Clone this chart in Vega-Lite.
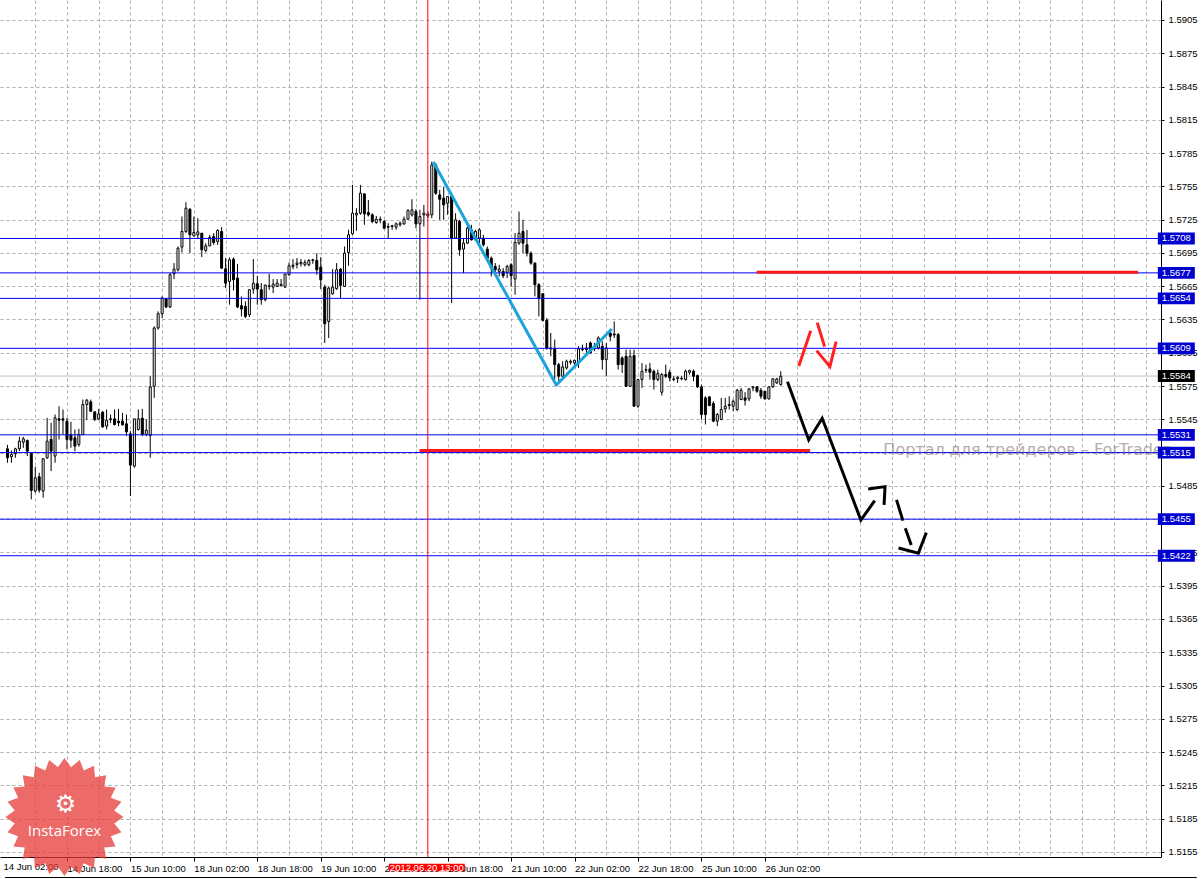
{
  "$schema": "https://vega.github.io/schema/vega-lite/v6.json",
  "width": 1161,
  "height": 857,
  "autosize": "none",
  "padding": {"left": 0, "top": 0, "right": 41, "bottom": 22},
  "background": "white",
  "config": {"view": {"stroke": null}},
  "datasets": {
    "candles": [
      {"i":1,"o":1.55184,"h":1.5522,"l":1.55058,"c":1.55103},
      {"i":2,"o":1.55112,"h":1.55169,"l":1.55058,"c":1.55133},
      {"i":3,"o":1.55139,"h":1.55193,"l":1.55103,"c":1.55184},
      {"i":4,"o":1.55184,"h":1.55292,"l":1.55163,"c":1.55253},
      {"i":5,"o":1.55244,"h":1.55292,"l":1.55193,"c":1.55274},
      {"i":6,"o":1.55259,"h":1.55268,"l":1.55118,"c":1.55163},
      {"i":7,"o":1.55142,"h":1.55142,"l":1.54728,"c":1.54809},
      {"i":8,"o":1.54803,"h":1.55022,"l":1.54788,"c":1.54923},
      {"i":9,"o":1.54932,"h":1.54968,"l":1.54788,"c":1.54812},
      {"i":10,"o":1.54803,"h":1.551,"l":1.54743,"c":1.55094},
      {"i":11,"o":1.55103,"h":1.55463,"l":1.55094,"c":1.55253},
      {"i":12,"o":1.55268,"h":1.55418,"l":1.54983,"c":1.55163},
      {"i":13,"o":1.55118,"h":1.55493,"l":1.55058,"c":1.55463},
      {"i":14,"o":1.55454,"h":1.55568,"l":1.55268,"c":1.55442},
      {"i":15,"o":1.55454,"h":1.55538,"l":1.55313,"c":1.55442},
      {"i":16,"o":1.55433,"h":1.55463,"l":1.55178,"c":1.55268},
      {"i":17,"o":1.55313,"h":1.55427,"l":1.55193,"c":1.55262},
      {"i":18,"o":1.55283,"h":1.55358,"l":1.55163,"c":1.55208},
      {"i":19,"o":1.55223,"h":1.55364,"l":1.55202,"c":1.55313},
      {"i":20,"o":1.55313,"h":1.55628,"l":1.55307,"c":1.55583},
      {"i":21,"o":1.55583,"h":1.55634,"l":1.55442,"c":1.55622},
      {"i":22,"o":1.55607,"h":1.55628,"l":1.55517,"c":1.55523},
      {"i":23,"o":1.55517,"h":1.55523,"l":1.55433,"c":1.55448},
      {"i":24,"o":1.55454,"h":1.55544,"l":1.55442,"c":1.55499},
      {"i":25,"o":1.55514,"h":1.55523,"l":1.55373,"c":1.55382},
      {"i":26,"o":1.55388,"h":1.55538,"l":1.55358,"c":1.55442},
      {"i":27,"o":1.55454,"h":1.55493,"l":1.55418,"c":1.55448},
      {"i":28,"o":1.55454,"h":1.55538,"l":1.55394,"c":1.55403},
      {"i":29,"o":1.55433,"h":1.55544,"l":1.55388,"c":1.55418},
      {"i":30,"o":1.55433,"h":1.55508,"l":1.55394,"c":1.554},
      {"i":31,"o":1.55409,"h":1.55493,"l":1.55298,"c":1.55337},
      {"i":32,"o":1.55319,"h":1.55343,"l":1.54758,"c":1.55037},
      {"i":33,"o":1.55028,"h":1.55454,"l":1.55013,"c":1.55454},
      {"i":34,"o":1.55358,"h":1.55538,"l":1.55349,"c":1.55454},
      {"i":35,"o":1.5546,"h":1.55544,"l":1.55298,"c":1.55313},
      {"i":36,"o":1.55313,"h":1.55448,"l":1.55298,"c":1.55352},
      {"i":37,"o":1.55304,"h":1.55838,"l":1.55103,"c":1.55742},
      {"i":38,"o":1.55748,"h":1.56288,"l":1.55643,"c":1.56273},
      {"i":39,"o":1.56273,"h":1.56423,"l":1.56258,"c":1.56402},
      {"i":40,"o":1.56402,"h":1.56558,"l":1.56363,"c":1.56543},
      {"i":41,"o":1.56534,"h":1.56543,"l":1.56453,"c":1.56462},
      {"i":42,"o":1.56462,"h":1.56768,"l":1.56453,"c":1.56753},
      {"i":43,"o":1.56762,"h":1.56858,"l":1.56714,"c":1.56804},
      {"i":44,"o":1.56798,"h":1.57008,"l":1.56783,"c":1.56993},
      {"i":45,"o":1.57002,"h":1.57278,"l":1.56954,"c":1.57143},
      {"i":46,"o":1.57143,"h":1.57407,"l":1.57128,"c":1.57353},
      {"i":47,"o":1.57344,"h":1.57353,"l":1.56948,"c":1.57113},
      {"i":48,"o":1.57104,"h":1.57278,"l":1.57098,"c":1.57134},
      {"i":49,"o":1.57113,"h":1.57263,"l":1.57083,"c":1.5714},
      {"i":50,"o":1.57128,"h":1.57128,"l":1.56912,"c":1.56978},
      {"i":51,"o":1.56972,"h":1.57038,"l":1.56954,"c":1.57014},
      {"i":52,"o":1.57014,"h":1.57113,"l":1.57008,"c":1.57089},
      {"i":53,"o":1.57098,"h":1.57128,"l":1.57023,"c":1.57044},
      {"i":54,"o":1.57053,"h":1.57164,"l":1.57023,"c":1.57152},
      {"i":55,"o":1.57143,"h":1.57182,"l":1.56804,"c":1.56813},
      {"i":56,"o":1.56807,"h":1.56903,"l":1.56633,"c":1.56678},
      {"i":57,"o":1.56693,"h":1.56909,"l":1.56483,"c":1.56888},
      {"i":58,"o":1.56894,"h":1.56909,"l":1.56612,"c":1.56708},
      {"i":59,"o":1.56723,"h":1.56849,"l":1.56453,"c":1.56462},
      {"i":60,"o":1.56474,"h":1.56558,"l":1.56378,"c":1.56444},
      {"i":61,"o":1.56468,"h":1.56513,"l":1.56363,"c":1.56378},
      {"i":62,"o":1.56393,"h":1.56624,"l":1.56372,"c":1.56618},
      {"i":63,"o":1.56624,"h":1.56894,"l":1.56582,"c":1.56678},
      {"i":64,"o":1.56672,"h":1.56744,"l":1.56483,"c":1.56624},
      {"i":65,"o":1.56618,"h":1.56678,"l":1.56483,"c":1.56528},
      {"i":66,"o":1.56528,"h":1.56663,"l":1.56513,"c":1.5666},
      {"i":67,"o":1.56648,"h":1.56762,"l":1.56618,"c":1.56654},
      {"i":68,"o":1.56642,"h":1.56714,"l":1.56588,"c":1.56669},
      {"i":69,"o":1.56648,"h":1.56714,"l":1.56642,"c":1.56678},
      {"i":70,"o":1.56654,"h":1.56714,"l":1.56648,"c":1.56666},
      {"i":71,"o":1.56642,"h":1.56762,"l":1.56633,"c":1.56759},
      {"i":72,"o":1.56753,"h":1.56864,"l":1.56744,"c":1.56834},
      {"i":73,"o":1.56828,"h":1.56894,"l":1.56804,"c":1.5684},
      {"i":74,"o":1.56846,"h":1.56903,"l":1.5681,"c":1.56858},
      {"i":75,"o":1.56852,"h":1.56894,"l":1.56828,"c":1.56864},
      {"i":76,"o":1.56843,"h":1.56888,"l":1.56828,"c":1.56864},
      {"i":77,"o":1.56843,"h":1.56894,"l":1.56828,"c":1.56882},
      {"i":78,"o":1.56882,"h":1.56897,"l":1.56852,"c":1.56888},
      {"i":79,"o":1.56882,"h":1.56948,"l":1.56753,"c":1.56798},
      {"i":80,"o":1.56822,"h":1.56912,"l":1.56624,"c":1.56708},
      {"i":81,"o":1.56642,"h":1.56663,"l":1.56138,"c":1.56312},
      {"i":82,"o":1.56333,"h":1.56648,"l":1.56183,"c":1.56633},
      {"i":83,"o":1.56582,"h":1.56804,"l":1.56573,"c":1.56642},
      {"i":84,"o":1.56627,"h":1.56858,"l":1.56618,"c":1.56798},
      {"i":85,"o":1.56804,"h":1.56813,"l":1.56543,"c":1.56657},
      {"i":86,"o":1.56648,"h":1.57008,"l":1.56642,"c":1.56948},
      {"i":87,"o":1.56954,"h":1.57158,"l":1.56834,"c":1.57113},
      {"i":88,"o":1.57122,"h":1.57563,"l":1.57113,"c":1.57308},
      {"i":89,"o":1.57293,"h":1.57353,"l":1.57149,"c":1.57308},
      {"i":90,"o":1.57308,"h":1.57563,"l":1.57293,"c":1.57488},
      {"i":91,"o":1.57482,"h":1.57488,"l":1.57203,"c":1.57302},
      {"i":92,"o":1.57314,"h":1.57428,"l":1.57278,"c":1.57293},
      {"i":93,"o":1.57293,"h":1.57308,"l":1.57218,"c":1.57233},
      {"i":94,"o":1.57224,"h":1.57284,"l":1.57212,"c":1.57254},
      {"i":95,"o":1.57254,"h":1.57278,"l":1.57218,"c":1.57248},
      {"i":96,"o":1.57233,"h":1.57248,"l":1.57164,"c":1.57173},
      {"i":97,"o":1.57188,"h":1.57218,"l":1.57083,"c":1.57182},
      {"i":98,"o":1.57194,"h":1.57203,"l":1.57158,"c":1.57188},
      {"i":99,"o":1.57182,"h":1.57224,"l":1.57158,"c":1.57212},
      {"i":100,"o":1.57203,"h":1.57233,"l":1.57188,"c":1.57218},
      {"i":101,"o":1.57212,"h":1.57278,"l":1.57203,"c":1.57254},
      {"i":102,"o":1.57254,"h":1.57344,"l":1.57248,"c":1.57332},
      {"i":103,"o":1.57293,"h":1.57434,"l":1.57278,"c":1.57338},
      {"i":104,"o":1.57323,"h":1.57344,"l":1.57173,"c":1.57212},
      {"i":105,"o":1.57212,"h":1.57338,"l":1.56528,"c":1.57278},
      {"i":106,"o":1.57293,"h":1.57383,"l":1.57188,"c":1.57308},
      {"i":107,"o":1.57284,"h":1.57323,"l":1.57263,"c":1.57302},
      {"i":108,"o":1.57293,"h":1.57773,"l":1.57263,"c":1.57743},
      {"i":109,"o":1.57743,"h":1.57758,"l":1.57473,"c":1.57488},
      {"i":110,"o":1.57473,"h":1.57518,"l":1.57248,"c":1.57434},
      {"i":111,"o":1.57443,"h":1.57548,"l":1.57248,"c":1.57383},
      {"i":112,"o":1.57398,"h":1.57458,"l":1.57293,"c":1.57458},
      {"i":113,"o":1.57458,"h":1.57473,"l":1.56498,"c":1.57083},
      {"i":114,"o":1.57083,"h":1.57308,"l":1.57083,"c":1.57248},
      {"i":115,"o":1.57233,"h":1.57248,"l":1.56924,"c":1.56978},
      {"i":116,"o":1.56984,"h":1.57083,"l":1.56768,"c":1.57038},
      {"i":117,"o":1.57038,"h":1.57203,"l":1.57032,"c":1.57173},
      {"i":118,"o":1.57158,"h":1.57203,"l":1.57062,"c":1.57068},
      {"i":119,"o":1.57068,"h":1.57158,"l":1.57062,"c":1.57143},
      {"i":120,"o":1.57083,"h":1.57173,"l":1.57038,"c":1.57158},
      {"i":121,"o":1.57083,"h":1.57113,"l":1.57008,"c":1.57023},
      {"i":122,"o":1.56984,"h":1.57008,"l":1.56888,"c":1.56903},
      {"i":123,"o":1.56903,"h":1.56918,"l":1.56738,"c":1.56813},
      {"i":124,"o":1.56828,"h":1.56858,"l":1.56768,"c":1.56798},
      {"i":125,"o":1.56783,"h":1.56843,"l":1.56738,"c":1.56804},
      {"i":126,"o":1.56783,"h":1.56813,"l":1.56723,"c":1.56744},
      {"i":127,"o":1.56774,"h":1.56843,"l":1.56723,"c":1.56828},
      {"i":128,"o":1.56843,"h":1.56858,"l":1.56648,"c":1.56744},
      {"i":129,"o":1.56714,"h":1.57128,"l":1.56573,"c":1.57044},
      {"i":130,"o":1.57038,"h":1.57323,"l":1.57023,"c":1.57128},
      {"i":131,"o":1.57143,"h":1.57248,"l":1.56948,"c":1.57038},
      {"i":132,"o":1.57023,"h":1.57158,"l":1.56918,"c":1.56948},
      {"i":133,"o":1.56948,"h":1.56963,"l":1.56843,"c":1.56858},
      {"i":134,"o":1.56858,"h":1.56864,"l":1.56558,"c":1.56663},
      {"i":135,"o":1.56663,"h":1.56678,"l":1.56378,"c":1.56543},
      {"i":136,"o":1.56582,"h":1.56588,"l":1.56333,"c":1.56342},
      {"i":137,"o":1.56342,"h":1.56363,"l":1.56078,"c":1.56093},
      {"i":138,"o":1.56093,"h":1.56228,"l":1.56018,"c":1.56084},
      {"i":139,"o":1.56084,"h":1.56168,"l":1.55808,"c":1.55943},
      {"i":140,"o":1.55943,"h":1.55958,"l":1.55793,"c":1.55838},
      {"i":141,"o":1.55838,"h":1.55973,"l":1.55823,"c":1.55922},
      {"i":142,"o":1.55913,"h":1.55988,"l":1.55898,"c":1.55973},
      {"i":143,"o":1.55964,"h":1.55988,"l":1.55943,"c":1.55973},
      {"i":144,"o":1.55958,"h":1.55988,"l":1.55928,"c":1.55982},
      {"i":145,"o":1.55958,"h":1.56108,"l":1.55913,"c":1.56084},
      {"i":146,"o":1.56078,"h":1.56123,"l":1.56063,"c":1.56084},
      {"i":147,"o":1.56078,"h":1.56138,"l":1.56048,"c":1.56093},
      {"i":148,"o":1.56138,"h":1.56153,"l":1.56042,"c":1.56048},
      {"i":149,"o":1.56093,"h":1.56138,"l":1.56063,"c":1.56084},
      {"i":150,"o":1.56093,"h":1.56198,"l":1.56078,"c":1.56183},
      {"i":151,"o":1.56108,"h":1.56153,"l":1.55898,"c":1.55988},
      {"i":152,"o":1.55988,"h":1.56138,"l":1.55838,"c":1.56093},
      {"i":153,"o":1.56228,"h":1.56258,"l":1.56153,"c":1.56198},
      {"i":154,"o":1.56219,"h":1.56333,"l":1.56183,"c":1.5621},
      {"i":155,"o":1.56213,"h":1.56228,"l":1.55898,"c":1.55943},
      {"i":156,"o":1.56003,"h":1.56018,"l":1.55868,"c":1.55943},
      {"i":157,"o":1.56018,"h":1.56078,"l":1.55742,"c":1.55748},
      {"i":158,"o":1.55748,"h":1.56078,"l":1.55742,"c":1.56018},
      {"i":159,"o":1.56024,"h":1.56078,"l":1.55562,"c":1.55568},
      {"i":160,"o":1.55568,"h":1.55808,"l":1.55553,"c":1.55808},
      {"i":161,"o":1.55808,"h":1.55958,"l":1.55733,"c":1.55883},
      {"i":162,"o":1.55892,"h":1.55943,"l":1.55868,"c":1.55898},
      {"i":163,"o":1.55904,"h":1.55958,"l":1.55808,"c":1.55874},
      {"i":164,"o":1.55883,"h":1.55898,"l":1.55718,"c":1.55808},
      {"i":165,"o":1.55808,"h":1.55898,"l":1.55793,"c":1.55862},
      {"i":166,"o":1.55694,"h":1.55868,"l":1.55664,"c":1.55853},
      {"i":167,"o":1.55853,"h":1.55943,"l":1.55823,"c":1.55838},
      {"i":168,"o":1.55874,"h":1.55898,"l":1.55793,"c":1.55823},
      {"i":169,"o":1.55814,"h":1.55838,"l":1.55793,"c":1.55808},
      {"i":170,"o":1.55817,"h":1.55838,"l":1.55778,"c":1.55829},
      {"i":171,"o":1.55814,"h":1.55838,"l":1.55802,"c":1.5582},
      {"i":172,"o":1.55808,"h":1.55898,"l":1.55799,"c":1.55883},
      {"i":173,"o":1.55874,"h":1.55898,"l":1.55853,"c":1.55889},
      {"i":174,"o":1.55883,"h":1.55898,"l":1.55793,"c":1.55838},
      {"i":175,"o":1.55844,"h":1.55853,"l":1.55733,"c":1.55742},
      {"i":176,"o":1.55742,"h":1.55763,"l":1.55448,"c":1.55493},
      {"i":177,"o":1.55643,"h":1.55658,"l":1.55403,"c":1.55493},
      {"i":178,"o":1.55652,"h":1.55658,"l":1.55568,"c":1.55574},
      {"i":179,"o":1.55592,"h":1.55613,"l":1.55424,"c":1.55433},
      {"i":180,"o":1.55433,"h":1.55508,"l":1.55388,"c":1.55493},
      {"i":181,"o":1.55448,"h":1.55643,"l":1.55442,"c":1.55538},
      {"i":182,"o":1.55544,"h":1.55643,"l":1.55508,"c":1.55568},
      {"i":183,"o":1.55574,"h":1.55658,"l":1.55538,"c":1.55583},
      {"i":184,"o":1.55568,"h":1.55628,"l":1.55523,"c":1.55613},
      {"i":185,"o":1.55538,"h":1.55724,"l":1.55523,"c":1.55712},
      {"i":186,"o":1.55628,"h":1.55733,"l":1.55622,"c":1.55712},
      {"i":187,"o":1.55643,"h":1.55694,"l":1.55574,"c":1.55622},
      {"i":188,"o":1.55634,"h":1.55733,"l":1.55613,"c":1.55724},
      {"i":189,"o":1.55733,"h":1.55748,"l":1.55703,"c":1.55742},
      {"i":190,"o":1.55742,"h":1.55748,"l":1.55688,"c":1.55703},
      {"i":191,"o":1.55712,"h":1.55733,"l":1.55634,"c":1.55658},
      {"i":192,"o":1.55703,"h":1.55703,"l":1.55628,"c":1.55634},
      {"i":193,"o":1.55634,"h":1.55748,"l":1.55628,"c":1.55742},
      {"i":194,"o":1.55742,"h":1.55823,"l":1.55733,"c":1.55814},
      {"i":195,"o":1.55778,"h":1.55823,"l":1.55769,"c":1.55814},
      {"i":196,"o":1.55763,"h":1.55883,"l":1.55754,"c":1.55838}
    ],
    "levels": [
      {"p":1.5708,"lab":"1.5708"},
      {"p":1.5677,"lab":"1.5677"},
      {"p":1.5654,"lab":"1.5654"},
      {"p":1.5609,"lab":"1.5609"},
      {"p":1.5531,"lab":"1.5531"},
      {"p":1.5515,"lab":"1.5515"},
      {"p":1.5455,"lab":"1.5455"},
      {"p":1.5422,"lab":"1.5422"}
    ],
    "current": [{"p":1.5584,"lab":"1.5584"}],
    "redSegments": [
      {"g":1,"ord":0,"i":189.9,"p":1.56775},
      {"g":1,"ord":1,"i":286.1,"p":1.56775},
      {"g":2,"ord":0,"i":104.9,"p":1.55169},
      {"g":2,"ord":1,"i":203.4,"p":1.55169}
    ],
    "blueWave": [
      {"g":1,"ord":0,"i":108.4,"p":1.5777},
      {"g":1,"ord":1,"i":139.4,"p":1.55759},
      {"g":1,"ord":2,"i":153.4,"p":1.56264}
    ],
    "blackPath": [
      {"g":1,"ord":0,"i":197.7,"p":1.55789},
      {"g":1,"ord":1,"i":203.05,"p":1.55264},
      {"g":1,"ord":2,"i":206.45,"p":1.55459},
      {"g":1,"ord":3,"i":216.2,"p":1.54542},
      {"g":1,"ord":4,"i":219.7,"p":1.54716},
      {"g":2,"ord":0,"i":218.05,"p":1.54822},
      {"g":2,"ord":1,"i":222.3,"p":1.54843},
      {"g":2,"ord":2,"i":222.05,"p":1.54678},
      {"g":3,"ord":0,"i":225.2,"p":1.54723},
      {"g":3,"ord":1,"i":226.8,"p":1.54536},
      {"g":4,"ord":0,"i":227.4,"p":1.54468},
      {"g":4,"ord":1,"i":228.9,"p":1.54317},
      {"g":5,"ord":0,"i":225.7,"p":1.5429},
      {"g":5,"ord":1,"i":230.7,"p":1.54242},
      {"g":5,"ord":2,"i":232.7,"p":1.54428}
    ],
    "redMark": [
      {"g":1,"ord":0,"i":200.55,"p":1.55931},
      {"g":1,"ord":1,"i":203.55,"p":1.56249},
      {"g":2,"ord":0,"i":205.2,"p":1.56321},
      {"g":2,"ord":1,"i":207.05,"p":1.56105},
      {"g":3,"ord":0,"i":205.05,"p":1.56069},
      {"g":3,"ord":1,"i":208.4,"p":1.55925},
      {"g":3,"ord":2,"i":209.95,"p":1.5615}
    ]
  },
  "layer": [
    {
      "data": {"name": "current"},
      "mark": {"type": "rule", "color": "#c0c0c0", "strokeWidth": 1},
      "encoding": {
        "y": {"field": "p", "type": "quantitative", "scale": {"domain": [1.51504, 1.5923], "nice": false, "zero": false},
          "axis": {"orient": "right", "title": null, "tickCount": 200, "values": [1.5155,1.5185,1.5215,1.5245,1.5275,1.5305,1.5335,1.5365,1.5395,1.5425,1.5455,1.5485,1.5515,1.5545,1.5575,1.5605,1.5635,1.5665,1.5695,1.5725,1.5755,1.5785,1.5815,1.5845,1.5875,1.5905],
            "labelExpr": "datum.value == 1.5515 || datum.value == 1.5455 ? '' : format(datum.value, '.4f')",
            "labelFont": "Liberation Sans", "labelFontSize": 9.5, "labelColor": "black", "tickSize": 3, "tickColor": "black", "domainColor": "black", "labelPadding": 4, "labelOverlap": false, "labelBound": false, "labelFlush": false,
            "grid": true, "gridColor": "#aab0aa", "gridDash": [3, 3], "gridWidth": 1}}
      }
    },
    {
      "data": {"name": "candles"},
      "mark": {"type": "rule", "color": "black", "strokeWidth": 1},
      "encoding": {
        "x": {"field": "i", "type": "quantitative", "scale": {"domain": [0.375, 290.625], "nice": false, "zero": false},
          "axis": {"orient": "bottom", "title": null, "tickCount": 200, "values": [8,16,24,32,40,48,56,64,72,80,88,96,104,112,120,128,136,144,152,160,168,176,184,192,200,208,216,224,232,240,248,256,264,272,280,288],
            "labelExpr": "datum.value % 16 == 0 && datum.value <= 192 ? ['14 Jun 02:00','14 Jun 18:00','15 Jun 10:00','18 Jun 02:00','18 Jun 18:00','19 Jun 10:00','20 Jun 02:00','20 Jun 18:00','21 Jun 10:00','22 Jun 02:00','22 Jun 18:00','25 Jun 10:00','26 Jun 02:00'][datum.value / 16] : ''",
            "labelAlign": "left", "labelBaseline": "top", "labelPadding": 2, "labelOffset": 0, "labelFont": "Liberation Sans", "labelFontSize": 9.5, "labelColor": "black",
            "labelOverlap": false, "labelBound": false, "labelFlush": false,
            "tickSize": 4, "tickColor": "black", "tickOpacity": {"condition": {"test": "datum.value % 16 == 0 && datum.value <= 192", "value": 1}, "value": 0},
            "domainColor": "black",
            "grid": true, "gridColor": "#aab0aa", "gridDash": [3, 3], "gridWidth": 1}},
        "y": {"field": "l", "type": "quantitative", "scale": {"domain": [1.51504, 1.5923], "nice": false, "zero": false}},
        "y2": {"field": "h"}
      }
    },
    {
      "data": {"name": "candles"},
      "mark": {"type": "bar", "size": 2, "stroke": "black", "strokeWidth": 1},
      "encoding": {
        "x": {"field": "i", "type": "quantitative", "scale": {"domain": [0.375, 290.625], "nice": false, "zero": false}},
        "y": {"field": "o", "type": "quantitative", "scale": {"domain": [1.51504, 1.5923], "nice": false, "zero": false}},
        "y2": {"field": "c"},
        "fill": {"condition": {"test": "datum.c >= datum.o", "value": "white"}, "value": "black"}
      }
    },
    {
      "data": {"name": "levels"},
      "mark": {"type": "rule", "color": "#0000ff", "strokeWidth": 1},
      "encoding": {
        "y": {"field": "p", "type": "quantitative", "scale": {"domain": [1.51504, 1.5923], "nice": false, "zero": false}}
      }
    },
    {
      "data": {"values": [{}]},
      "mark": {"type": "rule", "color": "#ff0000", "strokeWidth": 1},
      "encoding": {
        "x": {"datum": 107, "type": "quantitative", "scale": {"domain": [0.375, 290.625], "nice": false, "zero": false}}
      }
    },
    {
      "data": {"values": [{}]},
      "mark": {"type": "rule", "color": "black", "strokeWidth": 1},
      "encoding": {
        "x": {"datum": 0.375, "type": "quantitative", "scale": {"domain": [0.375, 290.625], "nice": false, "zero": false}},
        "x2": {"datum": 300.875},
        "y": {"datum": 1.51319, "type": "quantitative", "scale": {"domain": [1.51504, 1.5923], "nice": false, "zero": false}}
      }
    },
    {
      "data": {"name": "redSegments"},
      "mark": {"type": "line", "color": "#ff1a1a", "strokeWidth": 3},
      "encoding": {
        "x": {"field": "i", "type": "quantitative", "scale": {"domain": [0.375, 290.625], "nice": false, "zero": false}},
        "y": {"field": "p", "type": "quantitative", "scale": {"domain": [1.51504, 1.5923], "nice": false, "zero": false}},
        "detail": {"field": "g"},
        "order": {"field": "ord"}
      }
    },
    {
      "data": {"name": "blueWave"},
      "mark": {"type": "line", "color": "#1aa3de", "strokeWidth": 3, "strokeJoin": "round"},
      "encoding": {
        "x": {"field": "i", "type": "quantitative", "scale": {"domain": [0.375, 290.625], "nice": false, "zero": false}},
        "y": {"field": "p", "type": "quantitative", "scale": {"domain": [1.51504, 1.5923], "nice": false, "zero": false}},
        "detail": {"field": "g"},
        "order": {"field": "ord"}
      }
    },
    {
      "data": {"name": "blackPath"},
      "mark": {"type": "line", "color": "black", "strokeWidth": 3, "strokeJoin": "miter"},
      "encoding": {
        "x": {"field": "i", "type": "quantitative", "scale": {"domain": [0.375, 290.625], "nice": false, "zero": false}},
        "y": {"field": "p", "type": "quantitative", "scale": {"domain": [1.51504, 1.5923], "nice": false, "zero": false}},
        "detail": {"field": "g"},
        "order": {"field": "ord"}
      }
    },
    {
      "data": {"name": "redMark"},
      "mark": {"type": "line", "color": "#ff2020", "strokeWidth": 3},
      "encoding": {
        "x": {"field": "i", "type": "quantitative", "scale": {"domain": [0.375, 290.625], "nice": false, "zero": false}},
        "y": {"field": "p", "type": "quantitative", "scale": {"domain": [1.51504, 1.5923], "nice": false, "zero": false}},
        "detail": {"field": "g"},
        "order": {"field": "ord"}
      }
    },
    {
      "data": {"values": [{"txt": "Портал для трейдеров – ForTrader"}]},
      "mark": {"type": "text", "font": "DejaVu Sans", "fontSize": 16, "fill": "#806868", "opacity": 0.55, "align": "left", "baseline": "middle"},
      "encoding": {
        "x": {"datum": 221.875, "type": "quantitative", "scale": {"domain": [0.375, 290.625], "nice": false, "zero": false}},
        "y": {"datum": 1.55173, "type": "quantitative", "scale": {"domain": [1.51504, 1.5923], "nice": false, "zero": false}},
        "text": {"field": "txt"}
      }
    },
    {
      "data": {"name": "levels"},
      "mark": {"type": "point", "shape": "M-1,-0.32L1,-0.32L1,0.32L-1,0.32Z", "size": 1369, "filled": true, "fill": "#0000d0", "opacity": 1, "strokeWidth": 0},
      "encoding": {
        "x": {"datum": 295.75, "type": "quantitative", "scale": {"domain": [0.375, 290.625], "nice": false, "zero": false}},
        "y": {"field": "p", "type": "quantitative", "scale": {"domain": [1.51504, 1.5923], "nice": false, "zero": false}}
      }
    },
    {
      "data": {"name": "current"},
      "mark": {"type": "point", "shape": "M-1,-0.32L1,-0.32L1,0.32L-1,0.32Z", "size": 1369, "filled": true, "fill": "black", "opacity": 1, "strokeWidth": 0},
      "encoding": {
        "x": {"datum": 295.75, "type": "quantitative", "scale": {"domain": [0.375, 290.625], "nice": false, "zero": false}},
        "y": {"field": "p", "type": "quantitative", "scale": {"domain": [1.51504, 1.5923], "nice": false, "zero": false}}
      }
    },
    {
      "data": {"name": "levels"},
      "mark": {"type": "text", "font": "Liberation Sans", "fontSize": 9.5, "fill": "white", "align": "center", "baseline": "middle"},
      "encoding": {
        "x": {"datum": 295.75, "type": "quantitative", "scale": {"domain": [0.375, 290.625], "nice": false, "zero": false}},
        "y": {"field": "p", "type": "quantitative", "scale": {"domain": [1.51504, 1.5923], "nice": false, "zero": false}},
        "text": {"field": "lab"}
      }
    },
    {
      "data": {"name": "current"},
      "mark": {"type": "text", "font": "Liberation Sans", "fontSize": 9.5, "fill": "white", "align": "center", "baseline": "middle"},
      "encoding": {
        "x": {"datum": 295.75, "type": "quantitative", "scale": {"domain": [0.375, 290.625], "nice": false, "zero": false}},
        "y": {"field": "p", "type": "quantitative", "scale": {"domain": [1.51504, 1.5923], "nice": false, "zero": false}},
        "text": {"field": "lab"}
      }
    },
    {
      "data": {"values": [{"txt": "14 Jun 02:00"}]},
      "mark": {"type": "text", "font": "Liberation Sans", "fontSize": 9.5, "fill": "black", "align": "left", "baseline": "top"},
      "encoding": {
        "x": {"datum": 0, "type": "quantitative", "scale": {"domain": [0.375, 290.625], "nice": false, "zero": false}},
        "y": {"datum": 1.51459, "type": "quantitative", "scale": {"domain": [1.51504, 1.5923], "nice": false, "zero": false}},
        "text": {"field": "txt"}
      }
    },
    {
      "data": {"values": [{}]},
      "mark": {"type": "point", "shape": "M-1,-0.1L1,-0.1L1,0.1L-1,0.1Z", "size": 5776, "filled": true, "fill": "#ff0000", "opacity": 1, "strokeWidth": 0},
      "encoding": {
        "x": {"datum": 106.75, "type": "quantitative", "scale": {"domain": [0.375, 290.625], "nice": false, "zero": false}},
        "y": {"datum": 1.51409, "type": "quantitative", "scale": {"domain": [1.51504, 1.5923], "nice": false, "zero": false}}
      }
    },
    {
      "data": {"values": [{"txt": "2012.06.20 13:00"}]},
      "mark": {"type": "text", "font": "Liberation Sans", "fontSize": 9.5, "fill": "white", "align": "center", "baseline": "middle"},
      "encoding": {
        "x": {"datum": 106.75, "type": "quantitative", "scale": {"domain": [0.375, 290.625], "nice": false, "zero": false}},
        "y": {"datum": 1.51409, "type": "quantitative", "scale": {"domain": [1.51504, 1.5923], "nice": false, "zero": false}},
        "text": {"field": "txt"}
      }
    },
    {
      "data": {"values": [{}]},
      "mark": {"type": "point", "shape": "M1,0L0.8427,0.1109L0.9659,0.2588L0.7853,0.3253L0.866,0.5L0.6744,0.5175L0.7071,0.7071L0.5175,0.6744L0.5,0.866L0.3253,0.7853L0.2588,0.9659L0.1109,0.8427L0,1L-0.1109,0.8427L-0.2588,0.9659L-0.3253,0.7853L-0.5,0.866L-0.5175,0.6744L-0.7071,0.7071L-0.6744,0.5175L-0.866,0.5L-0.7853,0.3253L-0.9659,0.2588L-0.8427,0.1109L-1,0L-0.8427,-0.1109L-0.9659,-0.2588L-0.7853,-0.3253L-0.866,-0.5L-0.6744,-0.5175L-0.7071,-0.7071L-0.5175,-0.6744L-0.5,-0.866L-0.3253,-0.7853L-0.2588,-0.9659L-0.1109,-0.8427L0,-1L0.1109,-0.8427L0.2588,-0.9659L0.3253,-0.7853L0.5,-0.866L0.5175,-0.6744L0.7071,-0.7071L0.6744,-0.5175L0.866,-0.5L0.7853,-0.3253L0.9659,-0.2588L0.8427,-0.1109Z", "size": 13924, "filled": true, "fill": "#e53935", "opacity": 0.75, "strokeWidth": 0},
      "encoding": {
        "x": {"datum": 15.375, "type": "quantitative", "scale": {"domain": [0.375, 290.625], "nice": false, "zero": false}},
        "y": {"datum": 1.51865, "type": "quantitative", "scale": {"domain": [1.51504, 1.5923], "nice": false, "zero": false}}
      }
    },
    {
      "data": {"values": [{"txt": "⚙"}]},
      "mark": {"type": "text", "font": "DejaVu Sans", "fontSize": 24, "fill": "white", "align": "center", "baseline": "middle"},
      "encoding": {
        "x": {"datum": 15.625, "type": "quantitative", "scale": {"domain": [0.375, 290.625], "nice": false, "zero": false}},
        "y": {"datum": 1.51973, "type": "quantitative", "scale": {"domain": [1.51504, 1.5923], "nice": false, "zero": false}},
        "text": {"field": "txt"}
      }
    },
    {
      "data": {"values": [{"txt": "InstaForex"}]},
      "mark": {"type": "text", "font": "Open Sans", "fontSize": 15, "fill": "white", "align": "center", "baseline": "middle"},
      "encoding": {
        "x": {"datum": 15.375, "type": "quantitative", "scale": {"domain": [0.375, 290.625], "nice": false, "zero": false}},
        "y": {"datum": 1.51739, "type": "quantitative", "scale": {"domain": [1.51504, 1.5923], "nice": false, "zero": false}},
        "text": {"field": "txt"}
      }
    }
  ]
}
